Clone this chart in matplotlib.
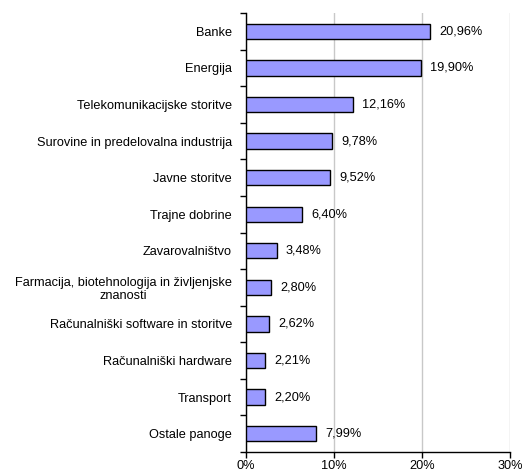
import matplotlib
matplotlib.use("Agg")
from matplotlib import pyplot as plt
import numpy as np

plt.rcParams['font.family'] = ['Liberation Sans', 'DejaVu Sans']

categories = ["Banke", "Energija", "Telekomunikacijske storitve",
              "Surovine in predelovalna industrija", "Javne storitve",
              "Trajne dobrine", "Zavarovalništvo",
              "Farmacija, biotehnologija in življenjske\nznanosti",
              "Računalniški software in storitve", "Računalniški hardware",
              "Transport", "Ostale panoge"]
values = [20.96, 19.90, 12.16, 9.78, 9.52, 6.40, 3.48, 2.80, 2.62, 2.21, 2.20, 7.99]
xticks = [0, 10, 20, 30]

fs = 9.2
fig = plt.figure(figsize=(5.26, 4.72), dpi=100)
ax = fig.add_axes([246/526, 1 - 452/472, 264/526, 439/472])

y = np.arange(len(categories))
ax.barh(y, values, height=0.42, color="#9999FF", edgecolor="black", lw=1, zorder=3)
for yi, v in zip(y, values):
    ax.text(v + 1.05, yi, f"{v:.2f}%".replace(".", ","), va="center", ha="left", fontsize=fs)

ax.set_ylim(len(categories) - 0.5, -0.5)
ax.set_xlim(0, 30)
ax.set_yticks(y)
ax.set_yticklabels(categories, fontsize=fs, linespacing=1.1)
for lab in ax.get_yticklabels():
    lab.set_multialignment("center")
ax.tick_params(axis="y", length=0, pad=10)
ax.set_yticks(np.arange(-0.5, len(categories), 1), minor=True)
ax.tick_params(axis="y", which="minor", length=4, width=1, direction="out")
ax.set_xticks(xticks)
ax.set_xticklabels([f"{t}%" for t in xticks], fontsize=fs)
ax.tick_params(axis="x", length=4, width=1, direction="out", pad=2)
ax.xaxis.grid(True, color="#c8c8c8", lw=1, zorder=0)

for s in ["top", "right"]:
    ax.spines[s].set_visible(False)
ax.spines["left"].set_linewidth(1)
ax.spines["bottom"].set_linewidth(1)

fig.savefig("out.png", dpi=100)
